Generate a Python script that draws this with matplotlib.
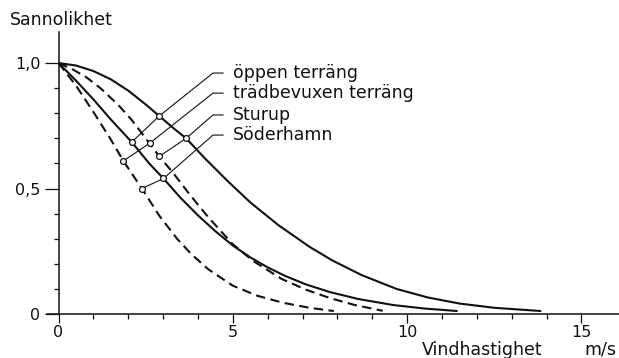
import matplotlib
matplotlib.use("Agg")
import matplotlib.pyplot as plt
from matplotlib.ticker import FixedLocator, FuncFormatter

# probability curves (x = wind speed m/s)
solid_outer_x = [0, 0.5, 1.0, 1.5, 2.0, 2.5, 2.89, 3.3, 3.66, 4.2, 4.85, 5.5,
                 6.3, 7.2, 7.85, 8.7, 9.7, 10.6, 11.5, 12.5, 13.85]
solid_outer_y = [1.0, 0.99, 0.968, 0.935, 0.89, 0.835, 0.789, 0.74, 0.70, 0.62,
                 0.53, 0.445, 0.355, 0.268, 0.214, 0.155, 0.10, 0.066, 0.042, 0.025, 0.012]

solid_inner_x = [0, 0.5, 1.0, 1.5, 2.1, 2.6, 3.01, 3.5, 4.0, 4.5, 5.0, 5.5, 6.0,
                 6.5, 7.1, 7.8, 8.6, 9.6, 10.5, 11.45]
solid_inner_y = [1.0, 0.93, 0.855, 0.775, 0.685, 0.60, 0.54, 0.463, 0.393, 0.33,
                 0.273, 0.226, 0.186, 0.152, 0.118, 0.087, 0.06, 0.036, 0.022, 0.012]

dashed_outer_x = [0, 0.4, 0.8, 1.2, 1.7, 2.1, 2.61, 2.89, 3.3, 3.77, 4.3, 5.0, 5.6,
                  6.4, 7.1, 7.8, 8.5, 9.3]
dashed_outer_y = [1.0, 0.975, 0.943, 0.90, 0.835, 0.773, 0.68, 0.628, 0.56, 0.475,
                  0.385, 0.278, 0.21, 0.14, 0.097, 0.063, 0.036, 0.013]

dashed_inner_x = [0, 0.5, 1.0, 1.5, 1.86, 2.39, 2.9, 3.4, 3.8, 4.3, 5.0, 5.7, 6.44,
                  7.2, 7.9]
dashed_inner_y = [1.0, 0.91, 0.805, 0.695, 0.61, 0.50, 0.39, 0.30, 0.24, 0.178,
                  0.113, 0.073, 0.045, 0.025, 0.012]

# labels with their leader lines: two marked points each, label height
labels = ["öppen terräng", "trädbevuxen terräng", "Sturup", "Söderhamn"]
label_y = [0.960, 0.880, 0.793, 0.713]
mark1_x = [2.10, 1.86, 2.89, 2.39]
mark1_y = [0.685, 0.61, 0.628, 0.50]
mark2_x = [2.89, 2.61, 3.66, 3.01]
mark2_y = [0.789, 0.68, 0.70, 0.54]
leader_x0, leader_x1, text_x = 4.43, 4.72, 5.01

ink = "#111111"
font = "DejaVu Sans"

fig = plt.figure(figsize=(6.19, 3.58), dpi=100)
ax = fig.add_axes([0, 0, 1, 1])
ax.set_xlim(-1.68, 16.08)
ax.set_ylim(-0.175, 1.251)

lw = 1.5
ax.plot(solid_outer_x, solid_outer_y, color=ink, lw=lw, solid_capstyle="butt")
ax.plot(solid_inner_x, solid_inner_y, color=ink, lw=lw, solid_capstyle="butt")
ax.plot(dashed_outer_x, dashed_outer_y, color=ink, lw=lw, linestyle=(0, (4.5, 2.6)))
ax.plot(dashed_inner_x, dashed_inner_y, color=ink, lw=lw, linestyle=(0, (4.5, 2.6)))

for i, name in enumerate(labels):
    ax.plot([mark1_x[i], mark2_x[i], leader_x0, leader_x1],
            [mark1_y[i], mark2_y[i], label_y[i], label_y[i]],
            color=ink, lw=0.8, zorder=3)
    ax.plot([mark1_x[i], mark2_x[i]], [mark1_y[i], mark2_y[i]], "o", ms=4.2,
            mfc="white", mec=ink, mew=0.9, zorder=4)
    ax.text(text_x, label_y[i], name, fontsize=12.5, family=font, color=ink,
            ha="left", va="center")

# axes drawn through the origin like the scan
for side in ["top", "right"]:
    ax.spines[side].set_visible(False)
ax.spines["left"].set_position(("data", 0))
ax.spines["bottom"].set_position(("data", 0))
ax.spines["left"].set_bounds(0, 1.124)
ax.spines["bottom"].set_bounds(-0.33, 16.08)
for side in ["left", "bottom"]:
    ax.spines[side].set_linewidth(1.1)
    ax.spines[side].set_color(ink)

ax.xaxis.set_major_locator(FixedLocator([0, 5, 10, 15]))
ax.xaxis.set_minor_locator(FixedLocator([1, 2, 3, 4, 6, 7, 8, 9, 11, 12, 13, 14]))
ax.yaxis.set_major_locator(FixedLocator([0, 0.5, 1.0]))
ax.yaxis.set_minor_locator(FixedLocator([0.1, 0.2, 0.3, 0.4, 0.6, 0.7, 0.8, 0.9]))
ax.xaxis.set_major_formatter(FuncFormatter(lambda v, p: f"{v:g}"))
ax.yaxis.set_major_formatter(
    FuncFormatter(lambda v, p: "0" if v == 0 else f"{v:.1f}".replace(".", ",")))

ax.tick_params(axis="x", which="major", direction="out", length=6.5, width=0.9,
               pad=1.5, labelsize=11.5, colors=ink)
ax.tick_params(axis="x", which="minor", direction="out", length=3.6, width=0.9, colors=ink)
ax.tick_params(axis="y", which="major", direction="out", length=10, width=0.9,
               pad=3, labelsize=11.5, colors=ink)
ax.tick_params(axis="y", which="minor", direction="out", length=3.6, width=0.9, colors=ink)
for t in ax.get_xticklabels() + ax.get_yticklabels():
    t.set_family(font)

ax.text(-1.39, 1.171, "Sannolikhet", fontsize=12.5, family=font, color=ink,
        ha="left", va="center")
ax.text(10.43, -0.142, "Vindhastighet", fontsize=12.5, family=font, color=ink,
        ha="left", va="center")
ax.text(15.1, -0.142, "m/s", fontsize=12.5, family=font, color=ink,
        ha="left", va="center")

fig.savefig("out.png", dpi=100)
